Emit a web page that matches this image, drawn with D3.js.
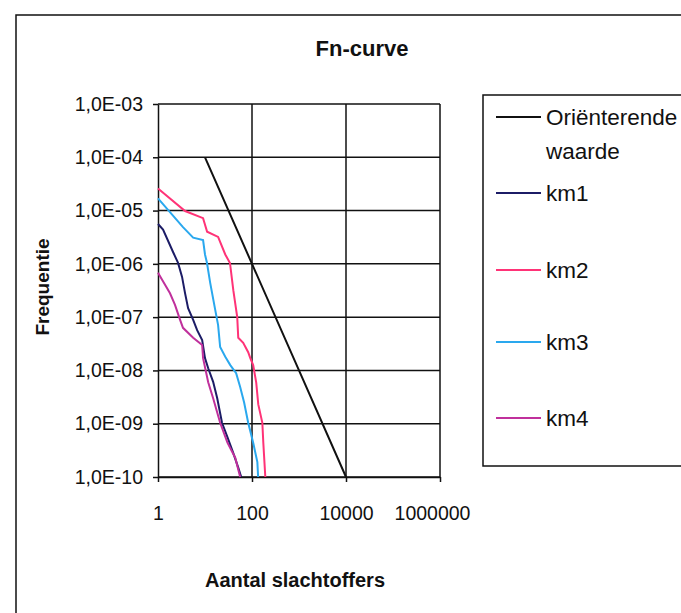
<!DOCTYPE html>
<html>
<head>
<meta charset="utf-8">
<script src="https://cdn.jsdelivr.net/npm/d3@7"></script>
<style>
  body { margin: 0; background: #fff; }
  text { font-family: "Liberation Sans", Arial, sans-serif; fill: #111; }
</style>
</head>
<body>
<div id="chart"></div>
<script>
// series data (N = number of victims, F = frequency)
const seriesNames = ['Oriënterende waarde', 'km1', 'km2', 'km3', 'km4'];
const seriesColors = ['#111111', '#1c1c66', '#ff3377', '#2aa8ee', '#c0309c'];

const orientN = [10, 100, 1000, 10000];
const orientF = [1e-4, 1e-6, 1e-8, 1e-10];

const km1N = [1, 1.28, 2.09, 2.67, 3.25, 3.77, 4.37, 5.6, 6.8, 8.7, 10, 11.7, 14.9, 18.2, 23, 30, 40, 51, 59];
const km1F = [5.6e-6, 4.4e-6, 1.67e-6, 1.04e-6, 5.7e-7, 2.8e-7, 1.47e-7, 8.9e-8, 5.7e-8, 3.7e-8, 1.7e-8, 1.1e-8, 6.1e-9, 3e-9, 1.04e-9, 5.6e-10, 2.8e-10, 1.5e-10, 1e-10];

const km2N = [1, 3.77, 9.1, 11.1, 19, 27, 34, 40, 48.5, 51, 65, 83, 92, 106, 123, 136, 166, 174, 192];
const km2F = [2.6e-5, 9.8e-6, 7.2e-6, 4e-6, 3.2e-6, 1.5e-6, 1.04e-6, 3.2e-7, 1e-7, 4.1e-8, 3.3e-8, 2.2e-8, 1.7e-8, 1.26e-8, 5.9e-9, 2.3e-9, 1.04e-9, 4.4e-10, 1e-10];

const km3N = [1, 3.4, 5.6, 9.1, 10, 11, 12.9, 16.5, 19, 21, 27, 34.5, 46, 56, 68, 83, 106, 130, 135];
const km3F = [1.7e-5, 4.9e-6, 3.1e-6, 2.8e-6, 1.5e-6, 1.05e-6, 4.4e-7, 1.37e-7, 7.1e-8, 2.75e-8, 1.8e-8, 1.26e-8, 8.9e-9, 4.9e-9, 2.5e-9, 1.04e-9, 4.4e-10, 1.9e-10, 1e-10];

const km4N = [1, 1.8, 2.3, 2.95, 3.4, 5.6, 8.7, 9.1, 11.7, 14.9, 21, 30, 44, 56];
const km4F = [6.8e-7, 2.8e-7, 1.7e-7, 8.9e-8, 6.3e-8, 4.1e-8, 3e-8, 1.7e-8, 6e-9, 3e-9, 1.04e-9, 4.4e-10, 2.3e-10, 1e-10];

const xTickValues = [1, 100, 10000, 1000000];
const yTickValues = [1e-3, 1e-4, 1e-5, 1e-6, 1e-7, 1e-8, 1e-9, 1e-10];

class FnCurve {

    constructor(_config) {
        this.config = {
            parentElement: _config.parentElement,
            containerWidth: _config.containerWidth || 681,
            containerHeight: _config.containerHeight || 613,
            margin: _config.margin || { top: 104, right: 241, bottom: 136, left: 158 }
        }
        this.data = [
            { N: orientN, F: orientF },
            { N: km1N, F: km1F },
            { N: km2N, F: km2F },
            { N: km3N, F: km3F },
            { N: km4N, F: km4F }
        ].map((s, i) => ({
            name: seriesNames[i],
            color: seriesColors[i],
            points: s.N.map((n, j) => ({ n: n, f: s.F[j] }))
        }));
        this.initVis();
    }

    initVis() {
        let vis = this;

        vis.width = vis.config.containerWidth - vis.config.margin.left - vis.config.margin.right;
        vis.height = vis.config.containerHeight - vis.config.margin.top - vis.config.margin.bottom;

        vis.xScale = d3.scaleLog()
            .domain([1, 1000000])
            .range([0, vis.width]);

        vis.yScale = d3.scaleLog()
            .domain([1e-10, 1e-3])
            .range([vis.height, 0]);

        vis.xAxis = d3.axisBottom(vis.xScale)
            .tickValues(xTickValues)
            .tickFormat(d => String(d))
            .tickSize(5)
            .tickSizeOuter(0)
            .tickPadding(24);

        vis.yAxis = d3.axisLeft(vis.yScale)
            .tickValues(yTickValues)
            .tickFormat(d => '1,0E-' + String(Math.round(-Math.log10(d))).padStart(2, '0'))
            .tickSize(5)
            .tickSizeOuter(0)
            .tickPadding(10);

        vis.svg = d3.select(vis.config.parentElement).append('svg')
            .attr('width', vis.config.containerWidth)
            .attr('height', vis.config.containerHeight);

        // outer chart border (runs off the right and bottom of the picture)
        vis.svg.append('rect')
            .attr('x', 16)
            .attr('y', 15)
            .attr('width', 720)
            .attr('height', 620)
            .attr('fill', 'none')
            .attr('stroke', '#111')
            .attr('stroke-width', 1.5);

        vis.svg.append('text')
            .attr('x', 362)
            .attr('y', 56)
            .attr('text-anchor', 'middle')
            .attr('font-weight', 'bold')
            .attr('font-size', 22)
            .text('Fn-curve');

        vis.chart = vis.svg.append('g')
            .attr('transform', `translate(${vis.config.margin.left},${vis.config.margin.top})`);

        // gridlines
        vis.chart.append('g')
            .selectAll('line')
            .data(yTickValues)
            .join('line')
            .attr('x1', 0)
            .attr('x2', vis.width)
            .attr('y1', d => vis.yScale(d))
            .attr('y2', d => vis.yScale(d))
            .attr('stroke', '#111')
            .attr('stroke-width', 1.5);

        vis.chart.append('g')
            .selectAll('line')
            .data(xTickValues.slice(1))
            .join('line')
            .attr('x1', d => vis.xScale(d))
            .attr('x2', d => vis.xScale(d))
            .attr('y1', 0)
            .attr('y2', vis.height)
            .attr('stroke', '#111')
            .attr('stroke-width', 1.5);

        vis.xAxisG = vis.chart.append('g')
            .attr('class', 'axis x-axis')
            .attr('transform', `translate(0,${vis.height})`);

        vis.yAxisG = vis.chart.append('g')
            .attr('class', 'axis y-axis');

        vis.svg.append('text')
            .attr('x', 295)
            .attr('y', 587)
            .attr('text-anchor', 'middle')
            .attr('font-weight', 'bold')
            .attr('font-size', 20)
            .text('Aantal slachtoffers');

        vis.svg.append('text')
            .attr('transform', 'translate(49,287) rotate(-90)')
            .attr('text-anchor', 'middle')
            .attr('font-weight', 'bold')
            .attr('font-size', 19)
            .text('Frequentie');

        vis.line = d3.line()
            .x(d => vis.xScale(d.n))
            .y(d => vis.yScale(d.f));

        vis.renderVis();
        vis.renderLegend();
    }

    renderVis() {
        let vis = this;

        vis.xAxisG.call(vis.xAxis);
        vis.yAxisG.call(vis.yAxis);

        vis.svg.selectAll('.axis path, .axis line')
            .attr('stroke', '#111')
            .attr('stroke-width', 1.5);
        vis.svg.selectAll('.axis text')
            .attr('font-family', '"Liberation Sans", Arial, sans-serif')
            .attr('font-size', 19.5)
            .attr('fill', '#111');

        // the last x label sits a little left of its tick in the original
        vis.xAxisG.selectAll('.tick text')
            .attr('dx', d => d === 1000000 ? -8 : 0);

        vis.chart.selectAll('.series')
            .data(vis.data)
            .join('path')
            .attr('class', 'series')
            .attr('d', d => vis.line(d.points))
            .attr('fill', 'none')
            .attr('stroke', d => d.color)
            .attr('stroke-width', 2);
    }

    renderLegend() {
        let vis = this;

        const legend = vis.svg.append('g')
            .attr('transform', 'translate(483,95)');

        legend.append('rect')
            .attr('width', 260)
            .attr('height', 371)
            .attr('fill', '#fff')
            .attr('stroke', '#111')
            .attr('stroke-width', 1.5);

        // y position of each entry's line inside the box
        const rowY = [22, 98, 175, 247, 323];

        const items = legend.selectAll('.item')
            .data(vis.data)
            .join('g')
            .attr('class', 'item')
            .attr('transform', (d, i) => `translate(0,${rowY[i]})`);

        items.append('line')
            .attr('x1', 13)
            .attr('x2', 58)
            .attr('stroke', d => d.color)
            .attr('stroke-width', 2);

        items.append('text')
            .attr('x', 63)
            .attr('font-size', 22.5)
            .each(function (d) {
                const words = d.name.split(' ');
                d3.select(this).selectAll('tspan')
                    .data(words)
                    .join('tspan')
                    .attr('x', 63)
                    .attr('dy', (w, k) => k === 0 ? '0.35em' : '1.5em')
                    .text(w => w);
            });
    }
}

new FnCurve({ parentElement: '#chart' });
</script>
</body>
</html>
